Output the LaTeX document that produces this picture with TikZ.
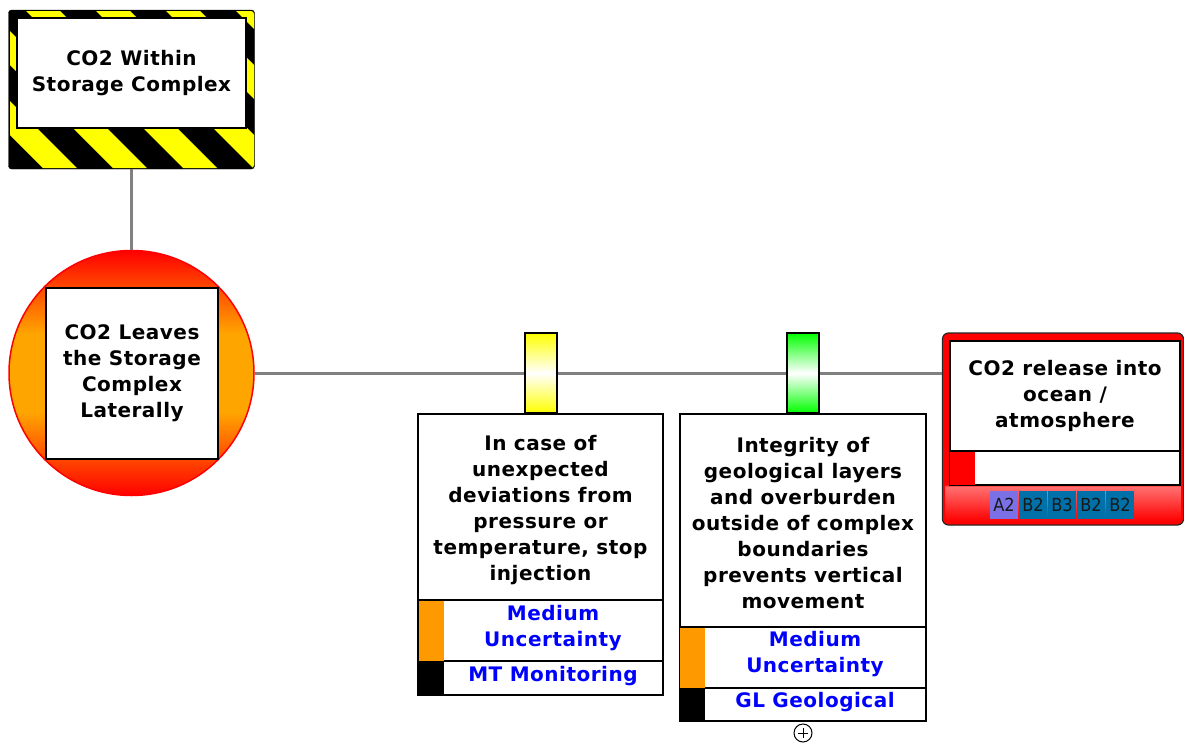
\documentclass[tikz,border=0pt]{standalone}
\usepackage{fontspec}
\setmainfont{DejaVu Sans}
\newfontfamily\lblfont{DejaVu Sans}[LetterSpace=2.5]
\newfontfamily\tagfont{DejaVu Sans Condensed}
\definecolor{conngray}{HTML}{808080}
\definecolor{uorange}{HTML}{FF9900}
\definecolor{corange}{HTML}{FFA500}
\definecolor{tagA}{HTML}{7B70E6}
\definecolor{tagB}{HTML}{0070A8}
\definecolor{bgreen}{HTML}{00FF00}
\definecolor{byellow}{HTML}{FFFF00}
\definecolor{ltblue}{HTML}{0000FF}
\definecolor{lightred}{HTML}{FF7070}
\pgfdeclareverticalshading{circshade}{100bp}{color(0bp)=(red); color(25bp)=(red); color(42bp)=(corange); color(58bp)=(corange); color(75bp)=(red); color(100bp)=(red)}
\pgfdeclareverticalshading{relshade}{100bp}{color(0bp)=(red); color(26bp)=(red); color(35bp)=(lightred); color(35.5bp)=(red); color(100bp)=(red)}
\begin{document}
\begin{tikzpicture}[x=1pt,y=-1pt,
  box/.style={draw=black, line width=1.2pt, fill=white, inner sep=0pt, align=center},
  lbl/.style={font=\lblfont\bfseries\fontsize{20}{26}\selectfont},
  blbl/.style={font=\lblfont\bfseries\fontsize{20}{26}\selectfont, text=ltblue},
  conn/.style={draw=conngray, line width=3pt},
  strip/.style={inner sep=0pt, minimum width=25, draw=none},
  barrier/.style={draw=black, line width=1.2pt, inner sep=0pt, minimum width=32, minimum height=80},
  tag/.style={inner sep=0pt, minimum width=28, minimum height=28, font=\tagfont\fontsize{18}{20}\selectfont, text=black!90}]
\useasboundingbox (0,0) rectangle (1184,744);

% ---- top hazard box
\node[fill=black, draw=black, rounded corners=3pt, minimum width=246, minimum height=159, inner sep=0pt] (top) at (131.5,89.5) {};
\begin{scope}
  \clip[rounded corners=3pt] (10,11) rectangle (254,168);
  \foreach \i in {-4,...,4}
    \fill[byellow] ({\i*70+25},10) -- ({\i*70+59},10) -- ({\i*70+59+159},169) -- ({\i*70+25+159},169) -- cycle;
\end{scope}
\node[box, minimum width=229, minimum height=110, lbl] (topin) at (131.5,73) {CO2 Within\\Storage Complex};

% ---- circle event
\node[circle, draw=red, line width=1.5pt, shading=circshade, minimum size=245, inner sep=0pt] (circ) at (131.5,373) {};
\node[box, minimum width=172, minimum height=171, lbl] (circin) at (132,373.5) {CO2 Leaves\\the Storage\\Complex\\Laterally};

% ---- release box
\node[draw=black!85, line width=1.2pt, rounded corners=6pt, shading=relshade, minimum width=241, minimum height=192, inner sep=0pt] (release) at (1063,429) {};
\draw[red, line width=2pt, rounded corners=5pt] (944,335) rectangle (1182,523);

% ---- connectors
\draw[conn] (top.south) -- (circ.north);
\draw[conn] (circ.east) -- (circ.east -| release.west);

% ---- release internals
\node[box, minimum width=230, minimum height=110, lbl] (reltext) at (1065,396) {CO2 release into\\ocean /\\atmosphere};
\node[box, minimum width=230, minimum height=34] (relrow) at (1065,468) {};
\node[strip, fill=red, minimum height=33] (relstrip) at (962.5,468) {};
\node[tag, fill=tagA] (tA) at (1004,505) {A2};
\node[tag, fill=tagB] (tB1) at (1033,505) {B2};
\node[tag, fill=tagB] (tB2) at (1062,505) {B3};
\node[tag, fill=tagB] (tB3) at (1091,505) {B2};
\node[tag, fill=tagB] (tB4) at (1120,505) {B2};

% ---- barrier 1
\node[barrier, top color=byellow, bottom color=byellow, middle color=white] (bar1) at (541,373) {};
\node[box, minimum width=245, minimum height=186] (b1text) at (540.5,507) {};
\node[lbl, align=center] (b1t) at (540.5,510) {In case of\\unexpected\\deviations from\\pressure or\\temperature, stop\\injection};
\node[box, minimum width=245, minimum height=61] (b1unc) at (540.5,630.5) {};
\node[box, minimum width=245, minimum height=34] (b1cat) at (540.5,678) {};
\node[strip, fill=uorange, minimum height=60] (b1s1) at (431,630.5) {};
\node[strip, fill=black, minimum height=33] (b1s2) at (431,678) {};
\node[blbl, align=center] (b1u) at (553,628) {Medium\\Uncertainty};
\node[blbl] (b1c) at (553,676) {MT Monitoring};

% ---- barrier 2
\node[barrier, top color=bgreen, bottom color=bgreen, middle color=white] (bar2) at (803,373) {};
\node[box, minimum width=246, minimum height=213] (b2text) at (803,520.5) {};
\node[lbl, align=center] (b2t) at (803,523.5) {Integrity of\\geological layers\\and overburden\\outside of complex\\boundaries\\prevents vertical\\movement};
\node[box, minimum width=246, minimum height=61] (b2unc) at (803,657.5) {};
\node[box, minimum width=246, minimum height=33] (b2cat) at (803,704.5) {};
\node[strip, fill=uorange, minimum height=60] (b2s1) at (692.5,657.5) {};
\node[strip, fill=black, minimum height=32] (b2s2) at (692.5,704.5) {};
\node[blbl, align=center] (b2u) at (815,654) {Medium\\Uncertainty};
\node[blbl] (b2c) at (815,702) {GL Geological};

% ---- expand marker
\node[circle, draw=black, line width=1pt, minimum size=18, inner sep=0pt, fill=white] (expand) at (803,733) {};
\draw[line width=1pt] ([xshift=-5pt]expand.center) -- ([xshift=5pt]expand.center);
\draw[line width=1pt] ([yshift=-5pt]expand.center) -- ([yshift=5pt]expand.center);
\end{tikzpicture}
\end{document}
